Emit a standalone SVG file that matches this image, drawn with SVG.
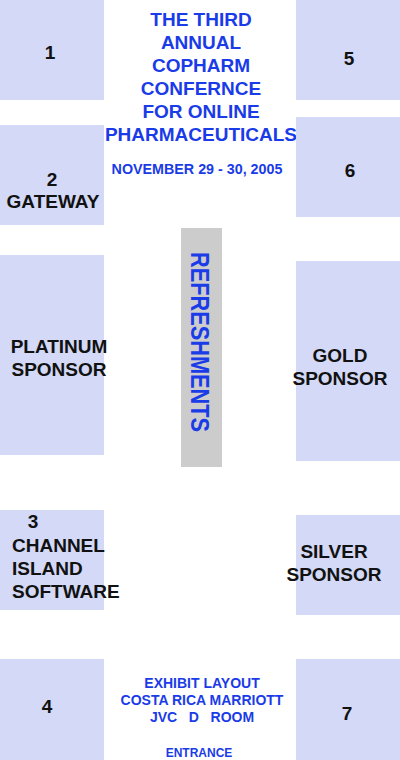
<svg xmlns="http://www.w3.org/2000/svg" width="400" height="760" viewBox="0 0 400 760">
<style>
.booth{fill:#d3d9f6}
.lbl{font-family:"Liberation Sans",Arial,sans-serif;font-weight:bold;font-size:19px;fill:#111}
.mid{text-anchor:middle}
.blue{font-family:"Liberation Sans",Arial,sans-serif;font-weight:bold;fill:#1a3be8;text-anchor:middle}
</style>
<rect width="400" height="760" fill="#fff"/>
<g id="title">
<text class="blue" font-size="19" x="201" y="26">THE THIRD</text>
<text class="blue" font-size="19" x="201" y="49">ANNUAL</text>
<text class="blue" font-size="19" x="201" y="72">COPHARM</text>
<text class="blue" font-size="19" x="201" y="95">CONFERNCE</text>
<text class="blue" font-size="19" x="201" y="118">FOR ONLINE</text>
<text class="blue" font-size="19" x="201" y="141">PHARMACEUTICALS</text>
<text class="blue" font-size="14.3" x="197" y="174">NOVEMBER 29 - 30, 2005</text>
</g>
<g id="booth1"><rect class="booth" x="0" y="0" width="104" height="100"/><text class="lbl mid" x="50" y="59">1</text></g>
<g id="booth5"><rect class="booth" x="296" y="0" width="104" height="100"/><text class="lbl mid" x="349" y="65">5</text></g>
<g id="booth2"><rect class="booth" x="0" y="125" width="104" height="100"/><text class="lbl mid" x="52" y="186">2</text><text class="lbl mid" x="53" y="208">GATEWAY</text></g>
<g id="booth6"><rect class="booth" x="296" y="117" width="104" height="100"/><text class="lbl mid" x="350" y="177">6</text></g>
<g id="refreshments"><rect x="181" y="228" width="41" height="239" fill="#cccccc"/><text class="blue" font-size="25" textLength="180" lengthAdjust="spacingAndGlyphs" transform="translate(191,342) rotate(90)">REFRESHMENTS</text></g>
<g id="platinum"><rect class="booth" x="0" y="255" width="104" height="200"/><text class="lbl mid" x="59" y="353">PLATINUM</text><text class="lbl mid" x="59" y="376">SPONSOR</text></g>
<g id="gold"><rect class="booth" x="296" y="261" width="104" height="200"/><text class="lbl mid" x="340" y="362">GOLD</text><text class="lbl mid" x="340" y="385">SPONSOR</text></g>
<g id="booth3"><rect class="booth" x="0" y="510" width="104" height="100"/><text class="lbl mid" x="33" y="528">3</text><text class="lbl" x="12" y="552">CHANNEL</text><text class="lbl" x="12" y="575">ISLAND</text><text class="lbl" x="12" y="598">SOFTWARE</text></g>
<g id="silver"><rect class="booth" x="296" y="515" width="104" height="100"/><text class="lbl mid" x="334" y="558">SILVER</text><text class="lbl mid" x="334" y="581">SPONSOR</text></g>
<g id="booth4"><rect class="booth" x="0" y="659" width="104" height="101"/><text class="lbl mid" x="47" y="713">4</text></g>
<g id="booth7"><rect class="booth" x="296" y="659" width="104" height="101"/><text class="lbl mid" x="347" y="720">7</text></g>
<g id="footer">
<text class="blue" font-size="14" x="202" y="688">EXHIBIT LAYOUT</text>
<text class="blue" font-size="14" x="202" y="705">COSTA RICA MARRIOTT</text>
<text class="blue" font-size="14" x="202" y="722" xml:space="preserve">JVC   D   ROOM</text>
<text class="blue" font-size="12" x="199" y="757">ENTRANCE</text>
</g>
<g id="connectors"></g>
</svg>
